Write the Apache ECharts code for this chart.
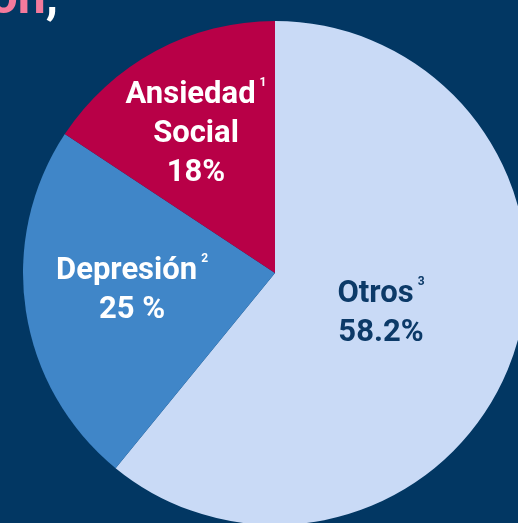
<!DOCTYPE html>
<html>
<head>
<meta charset="utf-8">
<script src="https://cdn.jsdelivr.net/npm/echarts@6/dist/echarts.min.js"></script>
<style>
  html, body { margin: 0; padding: 0; background: #023763; }
  #chart { width: 518px; height: 523px; }
</style>
</head>
<body>
<div id="chart"></div>
<script>
// Categories (label first line / second line), footnote marks
const categories = ['Otros', 'Depresión', 'Ansiedad Social'];
const footnotes = ['3', '2', '1'];
// Slice share as drawn in the picture (angular share, %)
const sliceShares = [60.9, 23.4, 15.7];
// Percentages printed on the slices
const shownPercents = ['58.2%', '25 %', '18%'];
const sliceColors = ['#c9daf6', '#4086c8', '#b80047'];
const textColors = ['#0c3a68', '#ffffff', '#ffffff'];

const labelAnchors = [[381, 314], [132, 291], [196, 134]];

const chart = echarts.init(document.getElementById('chart'), null, { renderer: 'canvas' });

function fmt(i) {
  const name = categories[i].split(' ');
  const key = 't' + i;
  if (name.length === 2) {
    return '{' + key + '|' + name[0] + '}{s' + i + '|' + footnotes[i] + '}\n{' + key + '|' + name[1] + '}\n{' + key + '|' + shownPercents[i] + '}';
  }
  return '{' + key + '|' + name[0] + '}{s' + i + '|' + footnotes[i] + '}\n{' + key + '|' + shownPercents[i] + '}';
}

const rich = {};
categories.forEach((c, i) => {
  rich['t' + i] = { fontFamily: 'Roboto', fontWeight: 'bold', fontSize: 31, lineHeight: 39, color: textColors[i] };
  rich['s' + i] = { fontFamily: 'Roboto', fontWeight: 'bold', fontSize: 12, lineHeight: 39, color: textColors[i], verticalAlign: 'top', padding: [1, 0, 0, 4] };
});

chart.setOption({
  backgroundColor: '#023763',
  animation: false,
  graphic: [{
    type: 'text',
    style: {
      x: 58, y: 0,
      text: '{p|ón}{w|,}',
      align: 'right',
      verticalAlign: 'middle',
      rich: {
        p: { fontFamily: 'Roboto', fontWeight: 'bold', fontSize: 50, fill: '#f47a9c' },
        w: { fontFamily: 'Roboto', fontWeight: 'bold', fontSize: 50, fill: '#ffffff' }
      }
    }
  }],
  series: [{
    type: 'pie',
    center: [275, 273],
    radius: [0, 252],
    startAngle: 90,
    clockwise: true,
    silent: true,
    itemStyle: { borderWidth: 0 },
    label: {
      show: true,
      position: 'inside',
      align: 'center',
      formatter: p => fmt(p.dataIndex),
      rich: rich
    },
    labelLine: { show: false },
    labelLayout: p => ({
      x: labelAnchors[p.dataIndex][0],
      y: labelAnchors[p.dataIndex][1],
      align: 'center',
      verticalAlign: 'middle'
    }),
    data: categories.map((c, i) => ({
      name: c,
      value: sliceShares[i],
      itemStyle: { color: sliceColors[i] }
    }))
  }]
});
</script>
</body>
</html>
